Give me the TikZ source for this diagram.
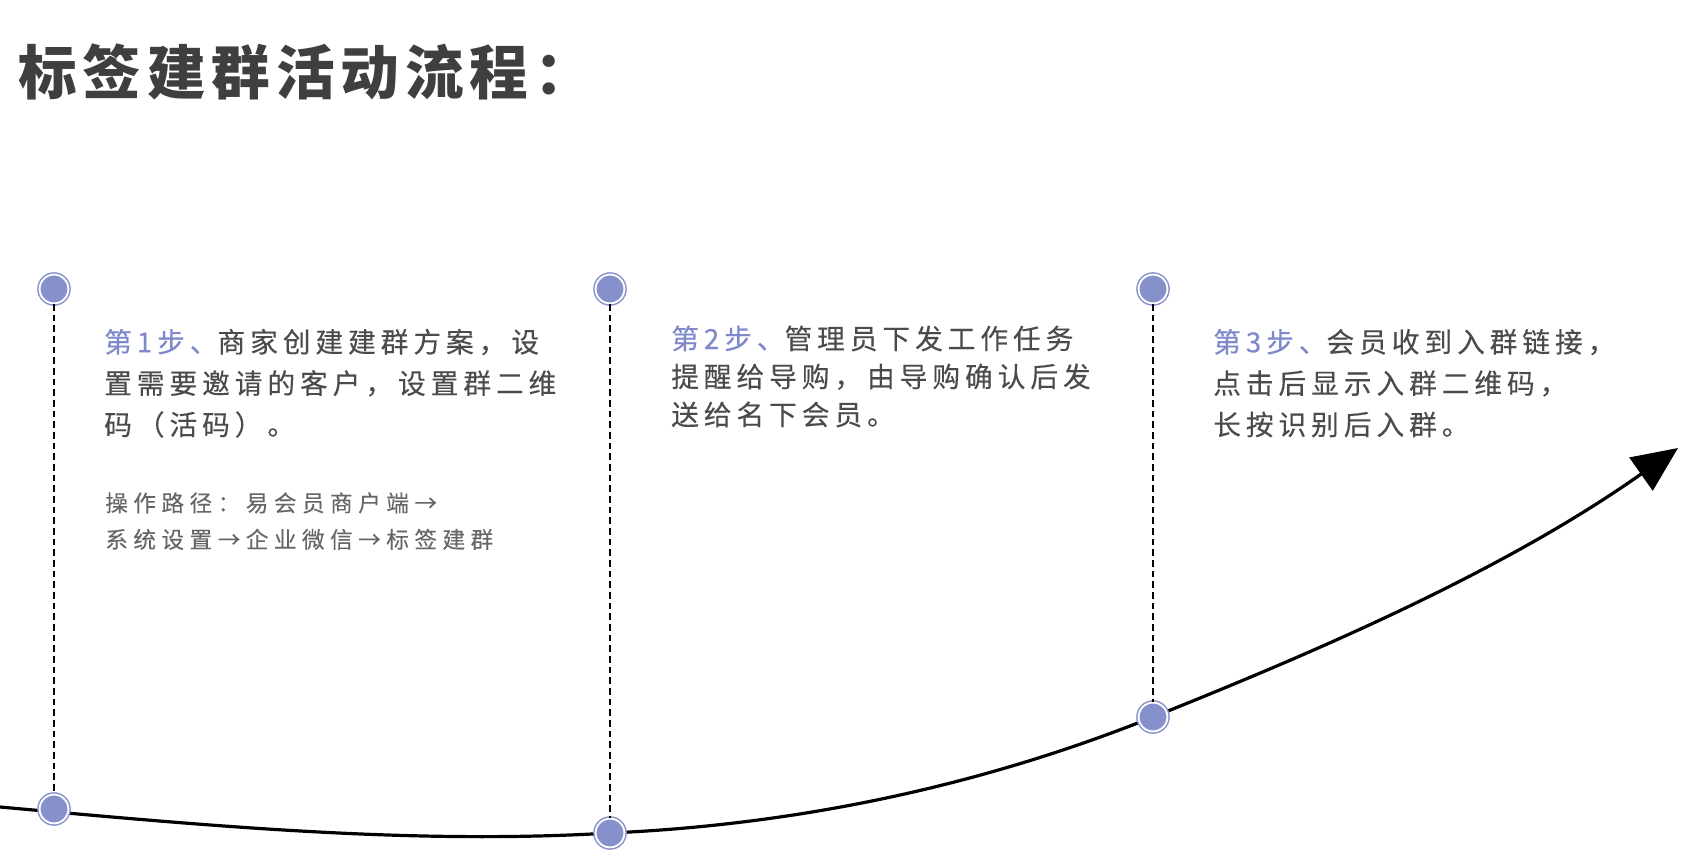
\documentclass[tikz,border=0pt]{standalone}
\usepackage{fontspec}
\usepackage{xcolor}
\usepackage{tikz}
\usetikzlibrary{arrows.meta}

\newfontfamily\titlefont[LetterSpace=10]{Noto Sans CJK SC}
\newfontfamily\stepfont[LetterSpace=18,FakeBold=0.3]{Noto Sans CJK SC}
\newfontfamily\pathfont[LetterSpace=24,FakeBold=0.1]{Noto Sans CJK SC}

\definecolor{titlegray}{HTML}{3F3F3F}
\definecolor{bodygray}{HTML}{4B4B4B}
\definecolor{pathgray}{HTML}{666666}
\definecolor{stepblue}{HTML}{7F89C9}
\definecolor{dotfill}{HTML}{8690CA}

\begin{document}
\begin{tikzpicture}[x=0.75pt,y=-0.75pt,
  dot/.style={circle, inner sep=0pt, minimum size=21.6pt, fill=dotfill, draw=dotfill,
    line width=1.1pt, double=white, double distance=1.4pt},
  steptext/.style={anchor=base west, inner sep=0pt, align=left, text=bodygray,
    font=\fontsize{20.75pt}{31pt}\stepfont},
  pathtext/.style={anchor=base west, inner sep=0pt, align=left, text=pathgray,
    font=\fontsize{17pt}{27.4pt}\pathfont}]
  \useasboundingbox (0,0) rectangle (1685,860);
  \node[anchor=base west, inner sep=0pt, text=titlegray,
    font=\fontsize{44pt}{50pt}\titlefont\bfseries] (title) at (18,94) {标签建群活动流程：};

  % the growth curve
  \coordinate (start) at (0,807);
  \coordinate (tip) at (1678,448);
  \foreach \i/\x/\yb in {1/54/809,2/610/833,3/1153/717} {
    \coordinate (p\i) at (\x,\yb);
  }
  \draw[line width=2.4pt, -{Triangle[length=34pt,width=30pt]}]
    (start) .. controls (200,825) and (410,845) .. (p2)
    .. controls (790,825) and (973,789) .. (p3)
    .. controls (1328,647) and (1508,568) .. (tip);

  \foreach \i/\x in {1/54,2/610,3/1153} {
    \node[dot] (t\i) at (\x,289) {};
    \node[dot] (b\i) at (p\i) {};
    \draw[line width=1.2pt, dash pattern=on 5pt off 3pt] (t\i) -- (b\i);
  }

  % base anchor sits on the last line
  \node[steptext] (step1) at (104,435)
    {{\color{stepblue}第1步、}商家创建建群方案，设\\置需要邀请的客户，设置群二维\\码（活码）。};
  \node[pathtext] (route) at (105,548)
    {操作路径：易会员商户端→\\系统设置→企业微信→标签建群};
  \node[steptext, font=\fontsize{20.75pt}{28.5pt}\stepfont] (step2) at (671,425)
    {{\color{stepblue}第2步、}管理员下发工作任务\\提醒给导购，由导购确认后发\\送给名下会员。};
  \node[steptext] (step3) at (1213,435)
    {{\color{stepblue}第3步、}会员收到入群链接，\\点击后显示入群二维码，\\长按识别后入群。};
\end{tikzpicture}
\end{document}
